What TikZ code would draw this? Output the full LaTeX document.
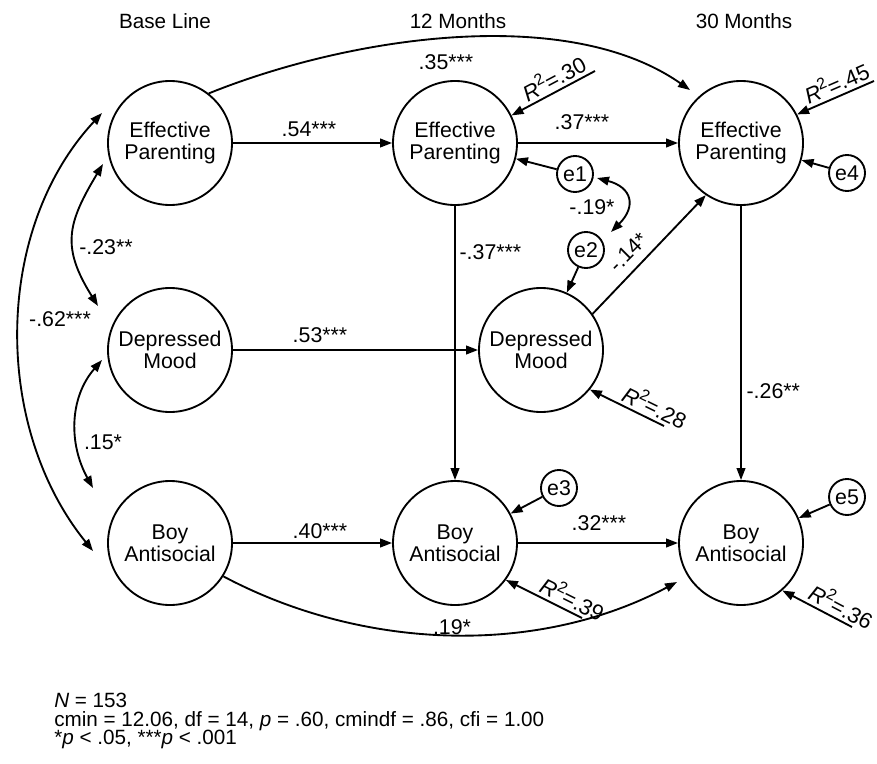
\documentclass[tikz,border=0pt]{standalone}
\usepackage{fontspec}
\setmainfont{Liberation Sans}
\usetikzlibrary{arrows.meta}
\newcommand{\rsq}[1]{\textit{R}\raisebox{0.42em}{\fontsize{12}{12}\selectfont 2}=#1}
\begin{document}
\begin{tikzpicture}[x=0.75pt,y=-0.75pt,
  big/.style={circle,draw,line width=1.4pt,minimum size=93pt,inner sep=0pt,align=center,font=\fontsize{16}{16.5}\selectfont},
  err/.style={circle,draw,line width=1.4pt,minimum size=27pt,inner sep=0pt,font=\fontsize{16}{16}\selectfont},
  arr/.style={line width=1.4pt,-{Triangle[length=9pt,width=6.5pt]}},
  darr/.style={line width=1.4pt,{Triangle[length=9pt,width=6.5pt]}-{Triangle[length=9pt,width=6.5pt]}},
  lab/.style={inner sep=1pt,font=\fontsize{16}{16}\selectfont},
  rlab/.style={inner sep=2.2pt,sloped,above,font=\fontsize{16.5}{16.5}\selectfont},
  hdr/.style={inner sep=0pt,anchor=base,font=\fontsize{15.5}{16}\selectfont},
  foot/.style={inner sep=0pt,anchor=base west,font=\fontsize{15.5}{16}\selectfont}]
\useasboundingbox (0,0) rectangle (877,763);

% headers
\node[hdr] (h0) at (165,29) {Base Line};
\node[hdr] (h12) at (458,29) {12 Months};
\node[hdr] (h30) at (744,29) {30 Months};

% main nodes
\node[big] (ep0) at (170,143) {Effective\\Parenting};
\node[big] (dm0) at (170,350) {Depressed\\Mood};
\node[big] (ba0) at (170,543) {Boy\\Antisocial};
\node[big] (ep12) at (455,143) {Effective\\Parenting};
\node[big] (dm12) at (541,350) {Depressed\\Mood};
\node[big] (ba12) at (455,543) {Boy\\Antisocial};
\node[big] (ep30) at (741,143) {Effective\\Parenting};
\node[big] (ba30) at (741,543) {Boy\\Antisocial};

% error nodes
\node[err] (e1) at (575,174) {e1};
\node[err] (e2) at (586,250) {e2};
\node[err] (e3) at (559,488) {e3};
\node[err] (e4) at (847,173) {e4};
\node[err] (e5) at (847,497) {e5};

% horizontal paths
\draw[arr] (ep0) -- (ep12);
\draw[arr] (ep12) -- (ep30);
\draw[arr] (dm0) -- (dm12);
\draw[arr] (ba0) -- (ba12);
\draw[arr] (ba12) -- (ba30);
\node[lab] (l54) at (309,129) {.54***};
\node[lab] (l37) at (582,122) {.37***};
\node[lab] (l53) at (320,335) {.53***};
\node[lab] (l40) at (320,531) {.40***};
\node[lab] (l32) at (599,523) {.32***};

% vertical paths
\draw[arr] (ep12) -- (ba12);
\draw[arr] (ep30) -- (ba30);
\node[lab,anchor=west] (l37v) at (458,252) {-.37***};
\node[lab,anchor=west] (l26) at (745,391) {-.26**};

% DM12 -> EP30
\draw[arr] (dm12.35) -- (ep30.236);
\node[lab,rotate=45] (l14) at (628,252) {-.14*};

% long curves
\draw[arr] (ep0.52) to[out=22,in=145,looseness=0.8] ([shift={(-51,-53)}]ep30.center);
\node[lab] (l35) at (446,62) {.35***};
\draw[arr] (ba0.-32) to[out=-28,in=208,looseness=0.89] ([shift={(-64,39)}]ba30.center);
\node[lab] (l19) at (452,627) {.19*};

% correlations at base line
\draw[darr] ([shift={(-67,21)}]ep0.center) to[out=239,in=122,looseness=1.25] ([shift={(-72,-44)}]dm0.center);
\node[lab] (l23) at (106,247) {-.23**};
\draw[darr] ([shift={(-68,10)}]dm0.center) to[out=229,in=119,looseness=1] ([shift={(-77,-55)}]ba0.center);
\node[lab] (l15) at (103,442) {.15*};
\draw[darr] ([shift={(-68,-30)}]ep0.center) to[out=227,in=129,looseness=0.93] ([shift={(-77,8)}]ba0.center);
\node[lab] (l62) at (60,319) {-.62***};

% error arrows
\draw[arr] (e1) -- (ep12);
\draw[arr] (e2) -- (dm12);
\draw[arr] (e3) -- (ba12);
\draw[arr] (e4) -- (ep30);
\draw[arr] (e5) -- (ba30);
\draw[darr] ([shift={(22,4)}]e1.center) to[out=-15,in=45,looseness=1.66] ([shift={(25,-18)}]e2.center);
\node[lab] (l19b) at (592,207) {-.19*};

% R squared
\coordinate (r30) at (595,71);
\coordinate (r45) at (874,81);
\coordinate (r28) at (664,426);
\coordinate (r39) at (582,618);
\coordinate (r36) at (852,627);
\draw[arr] (r30) -- node[rlab,pos=0.42] {\rsq{.30}} (ep12.26);
\draw[arr] (r45) -- node[rlab,pos=0.42] {\rsq{.45}} (ep30.27);
\draw[arr] (r28) -- node[rlab,pos=0.2] {\rsq{.28}} (dm12.-39);
\draw[arr] (r39) -- node[rlab,pos=0.2] {\rsq{.39}} (ba12.-36);
\draw[arr] (r36) -- node[rlab,pos=0.24] {\rsq{.36}} (ba30.-49);

% footer
\node[foot] (f1) at (54,707) {\textit{N} = 153};
\node[foot] (f2) at (54,726) {cmin = 12.06, df = 14, \textit{p} = .60, cmindf = .86, cfi = 1.00};
\node[foot] (f3) at (54,744) {*\textit{p} < .05, ***\textit{p} < .001};
\end{tikzpicture}
\end{document}
